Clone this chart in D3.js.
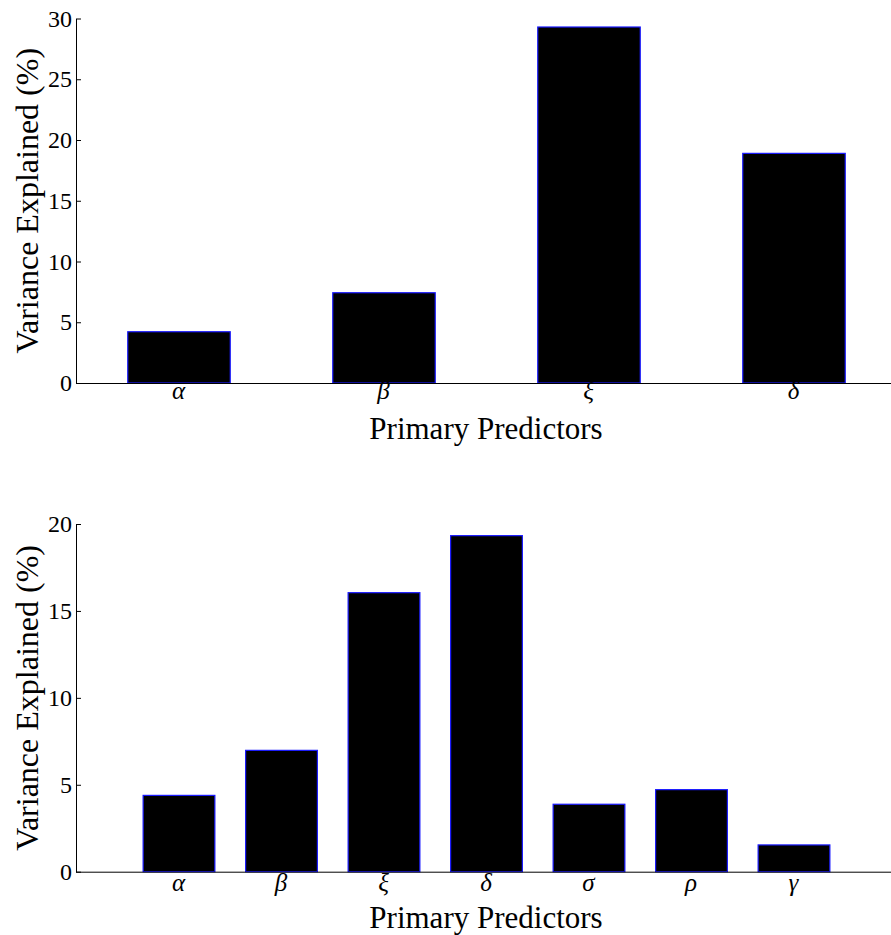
<!DOCTYPE html>
<html>
<head>
<meta charset="utf-8">
<script src="https://cdn.jsdelivr.net/npm/d3@7"></script>
<style>
  body { margin: 0; background: #fff; }
  svg { display: block; }
</style>
</head>
<body>
<svg id="chart" width="891" height="935"></svg>
<script>
// Variance explained by each primary predictor (%)
const topCategories = ["α", "β", "ξ", "δ"];
const topValues = [4.22, 7.43, 29.3, 18.9];
const topTicks = [0, 5, 10, 15, 20, 25, 30];

const bottomCategories = ["α", "β", "ξ", "δ", "σ", "ρ", "γ"];
const bottomValues = [4.39, 6.98, 16.05, 19.33, 3.88, 4.72, 1.54];
const bottomTicks = [0, 5, 10, 15, 20];

const xLabel = "Primary Predictors";
const yLabel = "Variance Explained (%)";

const SERIF = "'Liberation Serif', 'Times New Roman', Times, 'DejaVu Serif', serif";

const svg = d3.select("#chart");

function drawPanel(cfg) {
  const g = svg.append("g");
  const x = d3.scaleBand()
    .domain(cfg.categories)
    .range([cfg.left, cfg.right])
    .paddingInner(cfg.padInner)
    .paddingOuter(cfg.padOuter);
  const y = d3.scaleLinear()
    .domain([0, cfg.yMax])
    .range([cfg.bottom, cfg.top]);

  // bars
  g.selectAll("rect.bar")
    .data(cfg.values)
    .join("rect")
    .attr("class", "bar")
    .attr("x", (d, i) => x(cfg.categories[i]) + 0.5)
    .attr("y", d => y(d))
    .attr("width", x.bandwidth())
    .attr("height", d => cfg.bottom - y(d))
    .attr("fill", "#000")
    .attr("stroke", "#1a1aff")
    .attr("stroke-width", 1.2);

  // y axis: ticks pointing inward
  const yAxis = d3.axisLeft(y)
    .tickValues(cfg.ticks)
    .tickSize(-5)
    .tickSizeOuter(0)
    .tickPadding(4)
    .tickFormat(d3.format("d"));
  const ya = g.append("g")
    .attr("transform", `translate(${cfg.left},0)`)
    .call(yAxis)
    .attr("font-family", null)
    .attr("font-size", null);
  ya.select(".domain").attr("stroke", "#000").attr("stroke-width", 1);
  ya.selectAll(".tick line").attr("stroke", "#000");
  ya.selectAll(".tick text")
    .style("font-family", SERIF)
    .style("font-size", "24px")
    .attr("fill", "#000");

  // x axis baseline running out to the edge
  g.append("line")
    .attr("x1", cfg.left).attr("x2", 891)
    .attr("y1", cfg.bottom + 0.5).attr("y2", cfg.bottom + 0.5)
    .attr("stroke", "#000").attr("stroke-width", 1);

  // category labels
  g.selectAll("text.cat")
    .data(cfg.categories)
    .join("text")
    .attr("class", "cat")
    .attr("x", d => x(d) + x.bandwidth() / 2)
    .attr("y", cfg.bottom + cfg.catOffset)
    .attr("text-anchor", "middle")
    .style("font-family", SERIF)
    .style("font-style", "italic")
    .style("font-size", "25px")
    .text(d => d);

  // axis titles
  g.append("text")
    .attr("x", (cfg.left + 896) / 2)
    .attr("y", cfg.bottom + 56)
    .attr("text-anchor", "middle")
    .style("font-family", SERIF)
    .style("font-size", "31px")
    .text(xLabel);

  g.append("text")
    .attr("transform", `translate(38,${(cfg.top + cfg.bottom) / 2}) rotate(-90)`)
    .attr("text-anchor", "middle")
    .style("font-family", SERIF)
    .style("font-size", "32px")
    .text(yLabel);
}

drawPanel({
  categories: topCategories, values: topValues, ticks: topTicks, yMax: 30,
  left: 76, right: 896, top: 18.5, bottom: 383,
  padInner: 0.5, padOuter: 0.25, catOffset: 16
});

drawPanel({
  categories: bottomCategories, values: bottomValues, ticks: bottomTicks, yMax: 20,
  left: 76, right: 896, top: 524, bottom: 871.7,
  padInner: 0.3, padOuter: 0.65, catOffset: 19
});
</script>
</body>
</html>
